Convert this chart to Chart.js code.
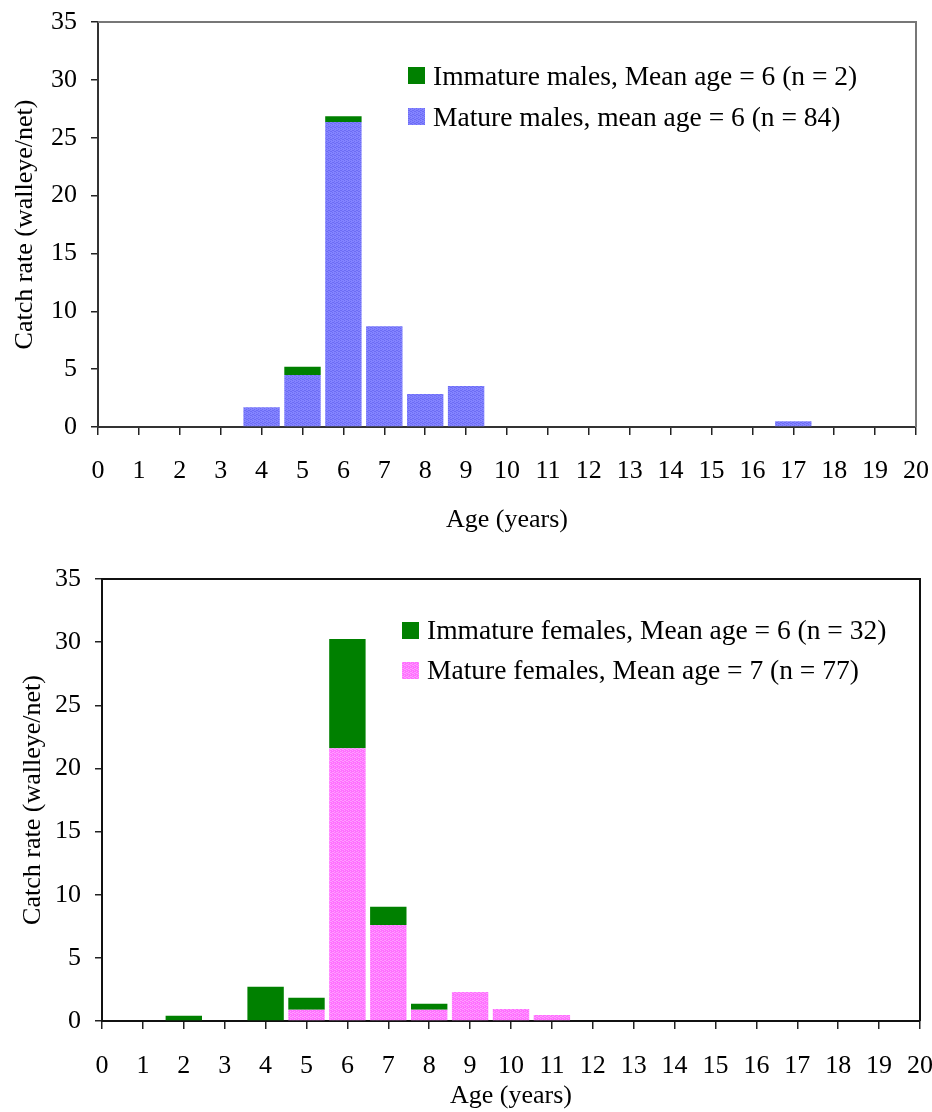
<!DOCTYPE html>
<html>
<head>
<meta charset="utf-8">
<script src="https://cdn.jsdelivr.net/npm/chart.js@4.4.1/dist/chart.umd.min.js"></script>
<style>
  body { margin: 0; background: #fff; font-family: "Liberation Serif", serif; }
  #page { position: relative; width: 932px; height: 1112px; overflow: hidden; }
  .panel { position: absolute; left: 0; width: 932px; }
  #top { top: 0; height: 550px; }
  #bottom { top: 550px; height: 562px; }
  .legend { position: absolute; font-size: 27.5px; color: #000; }
  .legend .row { display: flex; align-items: center; white-space: nowrap; }
  .legend .box { width: 17px; height: 17px; margin-right: 8px; flex: none; }
</style>
</head>
<body>
<div id="page">
  <div class="panel" id="top"><canvas id="malesChart"></canvas></div>
  <div class="panel" id="bottom"><canvas id="femalesChart"></canvas></div>
  <div class="legend" id="malesLegend" style="left:408px; top:55px;"></div>
  <div class="legend" id="femalesLegend" style="left:402px; top:610px;"></div>
</div>
<script>
// ages 0..20
const ages = ['0','1','2','3','4','5','6','7','8','9','10','11','12','13','14','15','16','17','18','19','20'];

// catch rate (walleye/net)
const matureMales     = [0, 0, 0, 0, 1.7, 4.5, 26.35, 8.7, 2.85, 3.55, 0, 0, 0, 0, 0, 0, 0, 0.5, 0, 0, 0];
const immatureMales   = [0, 0, 0, 0, 0, 0.7, 0.5, 0, 0, 0, 0, 0, 0, 0, 0, 0, 0, 0, 0, 0, 0];
const matureFemales   = [0, 0, 0, 0, 0, 0.9, 21.6, 7.6, 0.9, 2.3, 0.95, 0.48, 0, 0, 0, 0, 0, 0, 0, 0, 0];
const immatureFemales = [0, 0, 0.42, 0, 2.72, 0.95, 8.65, 1.45, 0.47, 0, 0, 0, 0, 0, 0, 0, 0, 0, 0, 0, 0];

const malesLabels = ['Mature males, mean age = 6 (n = 84)', 'Immature males, Mean age = 6 (n = 2)'];
const femalesLabels = ['Mature females, Mean age = 7 (n = 77)', 'Immature females, Mean age = 6 (n = 32)'];

const green = '#008000';
const font = "'Liberation Serif', serif";

// small dither tile like the excel fill
function ditherTile(base, dot) {
    const c = document.createElement('canvas');
    c.width = 4; c.height = 4;
    const g = c.getContext('2d');
    g.fillStyle = base;
    g.fillRect(0, 0, 4, 4);
    g.fillStyle = dot;
    [[0, 0], [2, 1], [1, 2], [3, 3], [2, 3], [0, 2]].forEach(([x, y]) => g.fillRect(x, y, 1, 1));
    return c;
}
const blueTile = ditherTile('#8484ff', '#6c6cf4');
const pinkTile = ditherTile('#ff70ff', '#ff9cff');

// draws the top and right edges of the plot box
const frame = {
    id: 'frame',
    afterDraw(chart, args, opts) {
        const {ctx, chartArea: a} = chart;
        ctx.save();
        ctx.strokeStyle = opts.color;
        ctx.lineWidth = opts.width;
        ctx.beginPath();
        ctx.moveTo(a.left, a.top);
        ctx.lineTo(a.right, a.top);
        ctx.lineTo(a.right, a.bottom);
        ctx.stroke();
        ctx.restore();
    }
};

function makeChart(id, mature, immature, labels, tile, lay) {
    const canvas = document.getElementById(id);
    const pattern = canvas.getContext('2d').createPattern(tile, 'repeat');
    return new Chart(canvas, {
        type: 'bar',
        data: {
            labels: ages,
            datasets: [
                { label: labels[0], data: mature, backgroundColor: pattern, borderWidth: 0,
                  barPercentage: 0.89, categoryPercentage: 1 },
                { label: labels[1], data: immature, backgroundColor: green, borderWidth: 0,
                  barPercentage: 0.89, categoryPercentage: 1 }
            ]
        },
        plugins: [frame],
        options: {
            responsive: true,
            maintainAspectRatio: false,
            animation: false,
            layout: { padding: { top: lay.top, right: lay.right, left: 0, bottom: 0 } },
            scales: {
                x: {
                    stacked: true,
                    offset: false,
                    grid: { offset: false, drawOnChartArea: false, tickLength: 8, color: '#222', lineWidth: 1.5 },
                    border: { color: lay.axis, width: 2 },
                    ticks: { autoSkip: false, maxRotation: 0, padding: lay.xPad, color: '#000',
                             font: { family: font, size: 26 } },
                    title: { display: true, text: 'Age (years)', color: '#000',
                             font: { family: font, size: 26 }, padding: { top: 0, bottom: lay.xTitle } },
                    afterFit(s) {
                        s.height = lay.xHeight;
                        s.paddingLeft = 0;
                        s.paddingRight = 0;
                    }
                },
                y: {
                    stacked: true,
                    min: 0,
                    max: 35,
                    ticks: { stepSize: 5, padding: 14, color: '#000', font: { family: font, size: 26 } },
                    grid: { drawOnChartArea: false, tickLength: 7, color: '#222', lineWidth: 1.5 },
                    border: { color: lay.axis, width: 2 },
                    title: { display: true, text: 'Catch rate (walleye/net)', color: '#000',
                             font: { family: font, size: 26 }, padding: { top: lay.yTitle, bottom: 0 } },
                    afterFit(s) {
                        s.width = lay.left;
                        s.paddingTop = 0;
                        s.paddingBottom = 0;
                    }
                }
            },
            plugins: {
                legend: { display: false },
                tooltip: { enabled: false },
                frame: { color: lay.frame, width: 2 }
            }
        }
    });
}

function buildLegend(el, labels, tile, rowHeight) {
    const url = tile.toDataURL();
    // immature first, as in the figure
    const items = [
        { text: labels[1], bg: green },
        { text: labels[0], bg: 'url(' + url + ')' }
    ];
    items.forEach(item => {
        const row = document.createElement('div');
        row.className = 'row';
        row.style.height = rowHeight + 'px';
        const box = document.createElement('span');
        box.className = 'box';
        box.style.background = item.bg;
        const txt = document.createElement('span');
        txt.textContent = item.text;
        row.appendChild(box);
        row.appendChild(txt);
        el.appendChild(row);
    });
}

makeChart('malesChart', matureMales, immatureMales, malesLabels, blueTile,
    { top: 22, right: 16, left: 98, xHeight: 123, xPad: 21, xTitle: 14, yTitle: 10, axis: '#333', frame: '#777' });
makeChart('femalesChart', matureFemales, immatureFemales, femalesLabels, pinkTile,
    { top: 29, right: 12, left: 102, xHeight: 91, xPad: 22, xTitle: 0, yTitle: 18, axis: '#111', frame: '#111' });

buildLegend(document.getElementById('malesLegend'), malesLabels, blueTile, 41);
buildLegend(document.getElementById('femalesLegend'), femalesLabels, pinkTile, 40);
</script>
</body>
</html>
